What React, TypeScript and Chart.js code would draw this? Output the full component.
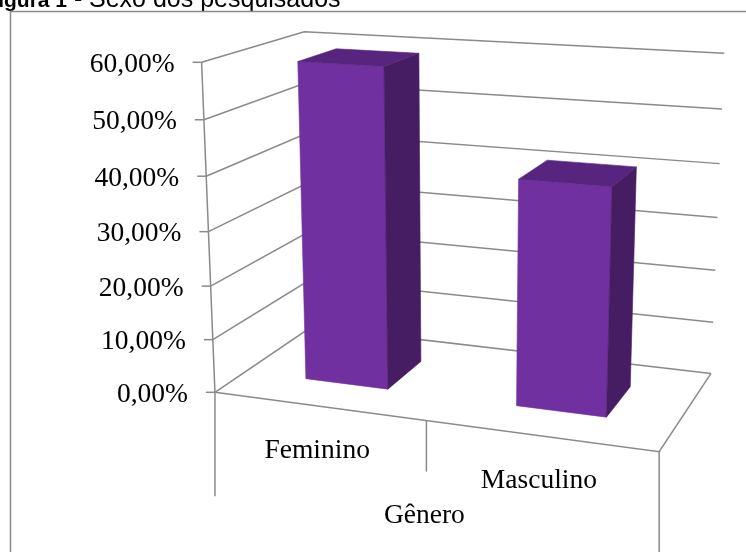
import React, { useEffect, useRef } from "react";
import { Chart, registerables } from "chart.js";

Chart.register(...registerables);

// ---- data ----
const categories = ["Feminino", "Masculino"];
const values = [0.59, 0.41];
const yTickValues = [0, 0.1, 0.2, 0.3, 0.4, 0.5, 0.6];
const axisTitle = "Gênero";
const titleBold = "Figura 1";
const titleRest = "Sexo dos pesquisados";

// ---- 3D look (layout only) ----
// anchors of the perspective: normalized (X along categories, Y along values, Z depth) -> screen
const ANCHORS: number[][] = [
  [0, 0, 0, 215, 392.5],
  [0, 1 / 6, 0, 212.9, 340],
  [0, 2 / 6, 0, 210.7, 286],
  [0, 3 / 6, 0, 208.5, 231.7],
  [0, 4 / 6, 0, 206.3, 176],
  [0, 5 / 6, 0, 204, 119.3],
  [0, 1, 0, 201.7, 62.3],
  [0.5, 0, 0, 426, 420.5],
  [1, 0, 0, 659, 452],
  [1, 0, 1, 711, 373],
  [1, 1 / 6, 1, 713.3, 322],
  [1, 2 / 6, 1, 715.4, 270],
  [1, 3 / 6, 1, 717.5, 218],
  [1, 4 / 6, 1, 719.7, 164],
  [1, 5 / 6, 1, 721.9, 109],
  [1, 1, 1, 724, 53],
  [0, 1, 1, 304, 32],
];
const BAR_Z0 = 0.3;
const BAR_Z1 = 0.7;
const FRONT = "#7030A0";
const TOP = "#58257E";
const SIDE = "#461C63";
const LEFTSIDE = "#5E2888";
const GRID = "#8A8A8A";
const SERIF = '27.5px "Liberation Serif", "Times New Roman", serif';

function fitProjection(pts: number[][]): number[] {
  const n = 11;
  const M: number[][] = Array.from({ length: n }, () => new Array(n + 1).fill(0));
  const addRow = (row: number[], r: number) => {
    for (let i = 0; i < n; i++) {
      for (let j = 0; j < n; j++) M[i][j] += row[i] * row[j];
      M[i][n] += row[i] * r;
    }
  };
  for (const [X, Y, Z, u, v] of pts) {
    addRow([X, Y, Z, 1, 0, 0, 0, 0, -u * X, -u * Y, -u * Z], u);
    addRow([0, 0, 0, 0, X, Y, Z, 1, -v * X, -v * Y, -v * Z], v);
  }
  for (let c = 0; c < n; c++) {
    let p = c;
    for (let r = c + 1; r < n; r++) if (Math.abs(M[r][c]) > Math.abs(M[p][c])) p = r;
    const tmp = M[c];
    M[c] = M[p];
    M[p] = tmp;
    for (let r = 0; r < n; r++) {
      if (r === c) continue;
      const f = M[r][c] / M[c][c];
      for (let k = c; k <= n; k++) M[r][k] -= f * M[c][k];
    }
  }
  return M.map((row, i) => row[n] / row[i]);
}

const PROJ = fitProjection(ANCHORS);

function project(X: number, Y: number, Z: number): [number, number] {
  const p = PROJ;
  const w = p[8] * X + p[9] * Y + p[10] * Z + 1;
  return [(p[0] * X + p[1] * Y + p[2] * Z + p[3]) / w, (p[4] * X + p[5] * Y + p[6] * Z + p[7]) / w];
}

function fmtPct(v: number): string {
  return (v * 100).toFixed(2).replace(".", ",") + "%";
}

function polyline(ctx: CanvasRenderingContext2D, pts: [number, number][]) {
  ctx.beginPath();
  pts.forEach((p, i) => (i ? ctx.lineTo(p[0], p[1]) : ctx.moveTo(p[0], p[1])));
  ctx.stroke();
}

function signedArea(pts: [number, number][]): number {
  let a = 0;
  for (let i = 0; i < pts.length; i++) {
    const [x1, y1] = pts[i];
    const [x2, y2] = pts[(i + 1) % pts.length];
    a += x1 * y2 - x2 * y1;
  }
  return a / 2;
}

const excel3d = {
  id: "excel3d",
  beforeDraw(chart: any) {
    const ctx: CanvasRenderingContext2D = chart.ctx;
    const ca = chart.chartArea;
    const ys = chart.scales.y;
    const H = ca.bottom - ca.top;
    const normY = (v: number) => (ca.bottom - ys.getPixelForValue(v)) / H;
    ctx.save();
    ctx.fillStyle = "#fff";
    ctx.fillRect(0, 0, chart.width, chart.height);

    // title (cut by the top edge, as in the source)
    ctx.fillStyle = "#000";
    ctx.textBaseline = "alphabetic";
    ctx.font = 'bold 21px "Liberation Sans", Arial, sans-serif';
    ctx.textAlign = "right";
    ctx.fillText(titleBold, 67, 6.5);
    ctx.font = '25px "Liberation Sans", Arial, sans-serif';
    ctx.textAlign = "left";
    ctx.fillText("-", 74, 6.5);
    ctx.fillText(titleRest, 89, 6.5);

    // outer frame
    ctx.fillStyle = "#fff";
    ctx.fillRect(10, 12, chart.width, chart.height);
    ctx.strokeStyle = "#8A8A8A";
    ctx.lineWidth = 1.5;
    ctx.strokeRect(10.5, 11.5, chart.width + 10, chart.height + 10);

    // walls' gridlines
    ctx.strokeStyle = GRID;
    ctx.lineWidth = 1.5;
    ctx.lineJoin = "miter";
    for (const t of yTickValues) {
      const Y = normY(t);
      polyline(ctx, [project(0, Y, 0), project(0, Y, 1), project(1, Y, 1)]);
    }
    // floor front + right edge
    polyline(ctx, [project(0, 0, 0), project(1, 0, 0), project(1, 0, 1)]);
    // value axis line
    polyline(ctx, [project(0, 0, 0), project(0, 1, 0)]);
    // value axis tick marks and labels
    ctx.font = SERIF;
    ctx.fillStyle = "#000";
    ctx.textAlign = "right";
    ctx.textBaseline = "middle";
    for (const t of yTickValues) {
      const [x, y] = project(0, normY(t), 0);
      polyline(ctx, [
        [x, y],
        [x - 9, y],
      ]);
      ctx.fillText(fmtPct(t), x - 27, y + 2.5);
    }
    // category divider ticks
    const tickLens = [104, 51, 110];
    [0, 0.5, 1].forEach((X, i) => {
      const [x, y] = project(X, 0, 0);
      polyline(ctx, [
        [x, y],
        [x, y + tickLens[i]],
      ]);
    });
    ctx.restore();
  },
  afterDatasetsDraw(chart: any) {
    const ctx: CanvasRenderingContext2D = chart.ctx;
    const ca = chart.chartArea;
    const W = ca.right - ca.left;
    const H = ca.bottom - ca.top;
    const meta = chart.getDatasetMeta(0);
    ctx.save();
    meta.data.forEach((bar: any) => {
      const x0 = (bar.x - bar.width / 2 - ca.left) / W;
      const x1 = (bar.x + bar.width / 2 - ca.left) / W;
      const h = (ca.bottom - bar.y) / H;
      const b = (ca.bottom - bar.base) / H;
      const z0 = BAR_Z0;
      const z1 = BAR_Z1;
      const faces: { pts: number[][]; color: string }[] = [
        { pts: [[x0, b, z0], [x0, h, z0], [x1, h, z0], [x1, b, z0]], color: FRONT },
        { pts: [[x1, b, z0], [x1, h, z0], [x1, h, z1], [x1, b, z1]], color: SIDE },
        { pts: [[x0, b, z1], [x0, h, z1], [x0, h, z0], [x0, b, z0]], color: LEFTSIDE },
        { pts: [[x0, h, z0], [x0, h, z1], [x1, h, z1], [x1, h, z0]], color: TOP },
      ];
      const proj = faces.map((f) => f.pts.map((p) => project(p[0], p[1], p[2])));
      const refSign = Math.sign(signedArea(proj[0]));
      faces.forEach((f, i) => {
        const pp = proj[i];
        if (Math.sign(signedArea(pp)) !== refSign) return;
        ctx.beginPath();
        pp.forEach((p, k) => (k ? ctx.lineTo(p[0], p[1]) : ctx.moveTo(p[0], p[1])));
        ctx.closePath();
        ctx.fillStyle = f.color;
        ctx.fill();
        ctx.strokeStyle = f.color;
        ctx.lineWidth = 0.6;
        ctx.stroke();
      });
    });

    // category labels
    const xs = chart.scales.x;
    ctx.font = SERIF;
    ctx.fillStyle = "#000";
    ctx.textAlign = "center";
    ctx.textBaseline = "middle";
    categories.forEach((c, i) => {
      const X = (xs.getPixelForValue(i) - ca.left) / W;
      const [x, y] = project(X, 0, 0);
      ctx.fillText(c, x - 1, y + 45);
    });
    const [gx, gy] = project(0.5, 0, 0);
    ctx.fillText(axisTitle, gx - 2, gy + 95);
    ctx.restore();
  },
};

export default function App() {
  const ref = useRef<HTMLCanvasElement | null>(null);
  useEffect(() => {
    if (!ref.current) return;
    const chart = new Chart(ref.current, {
      type: "bar",
      data: {
        labels: categories,
        datasets: [
          {
            data: values,
            backgroundColor: "rgba(0,0,0,0)",
            borderWidth: 0,
            categoryPercentage: 1,
            barPercentage: 0.4,
          },
        ],
      },
      options: {
        responsive: false,
        maintainAspectRatio: false,
        animation: false,
        devicePixelRatio: 1,
        layout: { padding: 0 },
        plugins: { legend: { display: false }, tooltip: { enabled: false }, title: { display: false } },
        scales: {
          x: { display: false, offset: true },
          y: { display: false, min: 0, max: 0.6, ticks: { stepSize: 0.1 } },
        },
      },
      plugins: [excel3d],
    });
    return () => chart.destroy();
  }, []);
  return (
    <div style={{ position: "fixed", left: 0, top: 0, width: 746, height: 552, background: "#fff" }}>
      <canvas ref={ref} width={746} height={552} style={{ width: 746, height: 552, display: "block" }} />
    </div>
  );
}
